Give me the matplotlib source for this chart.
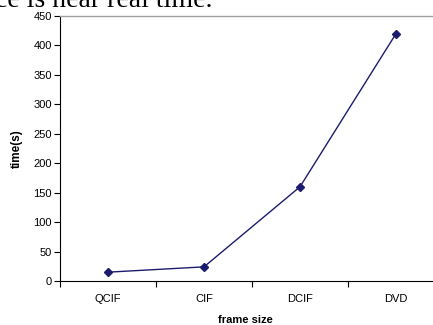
import matplotlib
matplotlib.use("Agg")
import matplotlib.pyplot as plt
import numpy as np

categories = ["QCIF", "CIF", "DCIF", "DVD"]
times = [15, 24, 160, 420]
y_ticks = [0, 50, 100, 150, 200, 250, 300, 350, 400, 450]

plt.rcParams["font.family"] = ["Liberation Sans", "DejaVu Sans"]

fig = plt.figure(figsize=(4.33, 3.25), dpi=100)
ax = fig.add_axes([60 / 433, 44 / 325, 384 / 433, 265 / 325])

x = np.arange(len(categories)) + 0.5
ax.plot(x, times, color="#1c1c6e", lw=1.0, marker="D", ms=4.5,
        mfc="#1c1c6e", mec="#1c1c6e")

ax.set_xlim(0, len(categories))
ax.set_ylim(0, 450)
ax.set_yticks(y_ticks)
ax.set_xticks(np.arange(len(categories) + 1))
ax.set_xticklabels([])
ax.set_xticks(x, minor=True)
ax.set_xticklabels(categories, minor=True)
ax.tick_params(axis="x", which="minor", length=0, pad=9, labelsize=8)
ax.tick_params(axis="x", which="major", length=4, direction="out", width=0.8)
ax.tick_params(axis="y", length=4, direction="out", width=0.8, labelsize=8, pad=2)

ax.spines["right"].set_visible(False)
ax.spines["top"].set_color("#a0a0a0")
ax.spines["top"].set_linewidth(1.0)
ax.spines["left"].set_linewidth(0.8)
ax.spines["bottom"].set_linewidth(0.8)

fig.text(17 / 433, 1 - 149 / 325, "time(s)", fontsize=8.5, fontweight="bold",
         rotation=90, ha="center", va="center")
fig.text(245 / 433, 1 - 320 / 325, "frame size", fontsize=8, fontweight="bold",
         ha="center", va="center")

# cropped line of body text from the page above the chart
fig.text(-0.012, 1 - 7 / 325, "ce is near real time.", fontsize=20,
         family=["Liberation Serif", "DejaVu Serif"], ha="left", va="baseline")

fig.savefig("out.png", dpi=100)
